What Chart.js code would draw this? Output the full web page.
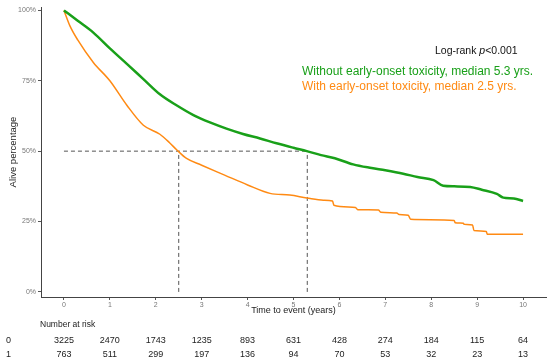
<!DOCTYPE html>
<html>
<head>
<meta charset="utf-8">
<script src="https://cdn.jsdelivr.net/npm/chart.js@4/dist/chart.umd.min.js"></script>
<style>
  html, body { margin: 0; padding: 0; background: #fff; }
  #wrap { width: 550px; height: 361px; }
</style>
</head>
<body>
<div id="wrap"><canvas id="km"></canvas></div>
<script>
// Kaplan-Meier curves: [time in years, alive %]
const withoutTox = [
  [0, 100], [0.3, 96.3], [0.64, 92.1], [1.0, 86.5], [1.37, 81],
  [1.73, 75.6], [2.09, 70.2], [2.46, 66.2], [2.82, 62.8], [3.18, 60.2], [3.54, 58],
  [3.9, 56.1], [4.27, 54.5], [4.63, 52.8], [5.0, 51.2], [5.29, 50], [5.6, 48.6],
  [5.9, 47.5], [6.3, 45.3], [6.7, 44], [7.0, 43.2], [7.39, 42], [7.7, 40.8],
  [8.05, 39.7], [8.26, 37.7], [8.5, 37.5], [8.85, 37.3], [9.1, 36.3],
  [9.43, 34.8], [9.57, 33.5], [9.8, 33.2], [10.0, 32.3]
];
const withTox = [
  [0, 100], [0.13, 94.5], [0.3, 89.5], [0.64, 81.5], [1.0, 75], [1.37, 66.3],
  [1.73, 59.2], [2.09, 56], [2.3, 53], [2.46, 50.4], [2.67, 47.4], [3.0, 45],
  [3.5, 41.5], [4.0, 38], [4.49, 35], [4.92, 34.4], [5.29, 33.4], [5.65, 32.6],
  [5.85, 32.3], [5.88, 30.8], [6.35, 30.0], [6.4, 29.2], [6.85, 29.1], [6.9, 28.3],
  [7.25, 28.0], [7.3, 27.5], [7.5, 27.2], [7.55, 25.8], [8.5, 25.4], [8.52, 24.6],
  [8.7, 24.4], [8.72, 24], [8.9, 23.8], [8.93, 21.8], [9.2, 21.5], [9.22, 20.5],
  [10.0, 20.5]
];
const medians = [5.3, 2.5];

const xTicks = [0, 1, 2, 3, 4, 5, 6, 7, 8, 9, 10];
const yTicks = [0, 25, 50, 75, 100];
const riskTimes = [0, 1, 2, 3, 4, 5, 6, 7, 8, 9, 10];
const riskGroup0 = [3225, 2470, 1743, 1235, 893, 631, 428, 274, 184, 115, 64];
const riskGroup1 = [763, 511, 299, 197, 136, 94, 70, 53, 32, 23, 13];

const GREEN = '#19a019';
const ORANGE = '#ff8a13';
const FONT = "'Liberation Sans', Arial, sans-serif";

const toXY = arr => arr.map(([x, y]) => ({ x, y }));
const dashed = {
  borderColor: '#555',
  borderWidth: 1,
  borderDash: [4, 3],
  pointRadius: 0,
  fill: false
};

// Annotation text and risk table, positioned with the x scale
const annotations = {
  id: 'annotations',
  afterDraw(chart) {
    const ctx = chart.ctx;
    const xs = chart.scales.x;
    ctx.save();
    ctx.textBaseline = 'middle';

    // Log-rank text with italic p
    ctx.fillStyle = '#111';
    ctx.textAlign = 'left';
    let x = 435;
    ctx.font = '10.5px ' + FONT;
    ctx.fillText('Log-rank ', x, 51);
    x += ctx.measureText('Log-rank ').width;
    ctx.font = 'italic 10.5px ' + FONT;
    ctx.fillText('p', x, 51);
    x += ctx.measureText('p').width;
    ctx.font = '10.5px ' + FONT;
    ctx.fillText('<0.001', x, 51);

    ctx.font = '12px ' + FONT;
    ctx.fillStyle = GREEN;
    ctx.fillText('Without early-onset toxicity, median ' + medians[0] + ' yrs.', 302, 72);
    ctx.fillStyle = ORANGE;
    ctx.fillText('With early-onset toxicity, median ' + medians[1] + ' yrs.', 302, 87);

    // Number at risk table
    ctx.fillStyle = '#222';
    ctx.font = '8.5px ' + FONT;
    ctx.fillText('Number at risk', 40, 325);
    ctx.font = '9px ' + FONT;
    ctx.fillText('0', 6, 341);
    ctx.fillText('1', 6, 355);
    ctx.textAlign = 'center';
    riskTimes.forEach((t, i) => {
      const px = xs.getPixelForValue(t);
      ctx.fillText(String(riskGroup0[i]), px, 341);
      ctx.fillText(String(riskGroup1[i]), px, 355);
    });
    ctx.restore();
  }
};

new Chart(document.getElementById('km'), {
  type: 'line',
  data: {
    datasets: [
      {
        label: 'Without early-onset toxicity',
        data: toXY(withoutTox),
        borderColor: GREEN,
        borderWidth: 2.5,
        pointRadius: 0,
        cubicInterpolationMode: 'monotone',
        fill: false
      },
      {
        label: 'With early-onset toxicity',
        data: toXY(withTox),
        borderColor: ORANGE,
        borderWidth: 1.5,
        pointRadius: 0,
        cubicInterpolationMode: 'monotone',
        fill: false
      },
      Object.assign({ data: [{ x: 0, y: 50 }, { x: medians[0], y: 50 }] }, dashed),
      Object.assign({ data: [{ x: medians[1], y: 0 }, { x: medians[1], y: 50 }] }, dashed),
      Object.assign({ data: [{ x: medians[0], y: 0 }, { x: medians[0], y: 50 }] }, dashed)
    ]
  },
  options: {
    responsive: true,
    maintainAspectRatio: false,
    animation: false,
    layout: { padding: { top: 7, right: 4, bottom: 45, left: 0 } },
    plugins: {
      legend: { display: false },
      tooltip: { enabled: false }
    },
    scales: {
      x: {
        type: 'linear',
        min: -0.5,
        max: 10.5,
        afterBuildTicks: s => { s.ticks = xTicks.map(v => ({ value: v })); },
        afterFit: s => { s.height = 19; },
        grid: { drawOnChartArea: false, drawTicks: true, tickLength: 3, color: '#555' },
        border: { display: true, color: '#444', width: 1 },
        ticks: { color: '#777', font: { family: FONT, size: 7 }, padding: 1 },
        title: {
          display: true,
          text: 'Time to event (years)',
          color: '#222',
          font: { family: FONT, size: 9 },
          padding: { top: 0, bottom: 0 }
        }
      },
      y: {
        min: -1.8,
        max: 101.2,
        afterBuildTicks: s => { s.ticks = yTicks.map(v => ({ value: v })); },
        afterFit: s => { s.width = 41; },
        grid: { drawOnChartArea: false, drawTicks: true, tickLength: 3, color: '#555' },
        border: { display: true, color: '#444', width: 1 },
        ticks: {
          color: '#777',
          font: { family: FONT, size: 7 },
          padding: 2,
          callback: v => v + '%'
        },
        title: {
          display: true,
          text: 'Alive percentage',
          color: '#222',
          font: { family: FONT, size: 9.5 },
          padding: { top: 8, bottom: 0 }
        }
      }
    }
  },
  plugins: [annotations]
});
</script>
</body>
</html>
